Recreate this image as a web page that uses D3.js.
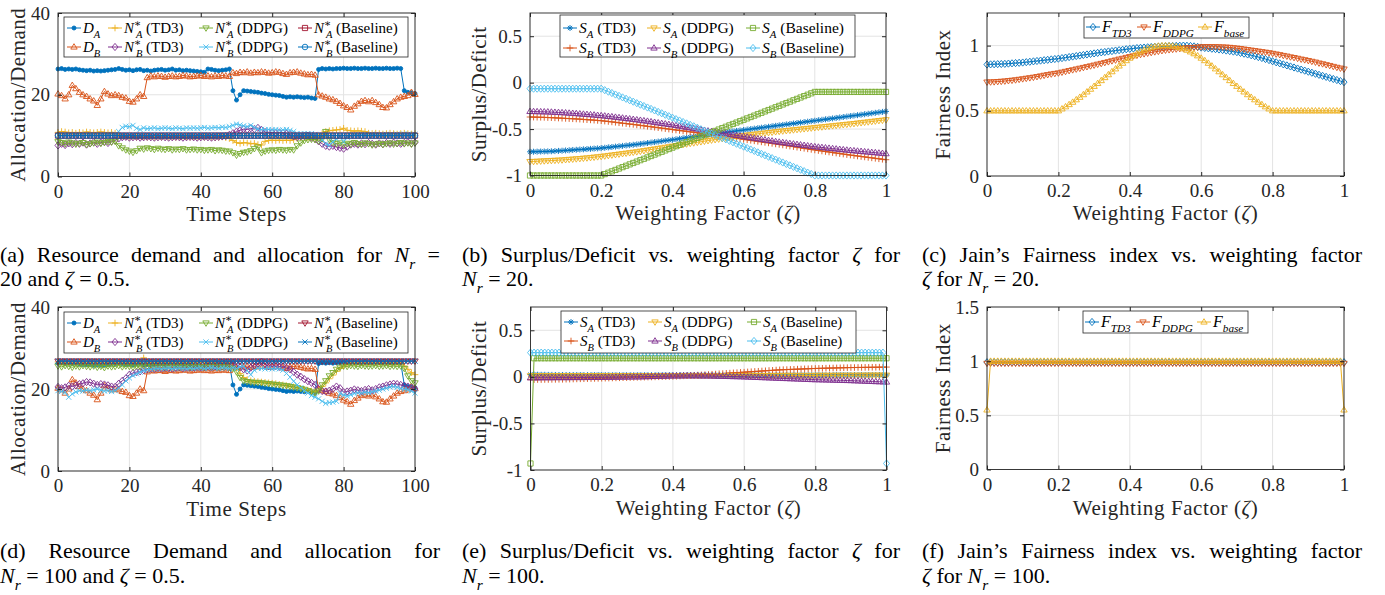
<!DOCTYPE html>
<html>
<head>
<meta charset="utf-8">
<script src="https://cdn.jsdelivr.net/npm/d3@7"></script>
<style>
  body { margin: 0; background: #fff; }
  svg { display: block; }
</style>
</head>
<body>
<div id="box"></div>
<script>
// ---------- data ----------
const timeSteps = d3.range(0, 101);          // 0..100
const zeta = d3.range(0, 101).map(i => i / 100); // 0..1 step 0.01

// (a) / (d) demands (same in both)
const demandA = [
  26.3, 26.4, 26.2, 26.3, 26.2, 26.3, 26.1, 26.0, 25.9, 26.0,
  25.8, 25.9, 25.8, 25.9, 26.0, 26.1, 26.2, 26.4, 26.2, 26.0,
  26.1, 25.9, 26.1, 26.2, 25.9, 26.0, 25.8, 26.0, 26.1, 26.2,
  26.0, 26.1, 26.3, 26.0, 26.1, 25.9, 26.0, 25.9, 25.8, 25.7,
  25.6, 25.5, 26.3, 26.2, 26.0, 25.9, 26.0, 26.1, 26.3, 21.0,
  18.7, 20.0, 21.0, 20.9, 20.8, 20.7, 20.6, 20.4, 20.3, 20.1,
  20.0, 19.9, 19.8, 19.6, 19.4, 19.5, 19.4, 19.5, 19.4, 19.3,
  19.4, 19.2, 19.1, 26.2, 26.4, 26.3, 26.4, 26.3, 26.4, 26.4,
  26.5, 26.4, 26.4, 26.5, 26.4, 26.4, 26.5, 26.4, 26.4, 26.5,
  26.4, 26.4, 26.5, 26.4, 26.4, 26.5, 26.4, 21.0, 20.6, 20.5,
  20.3];
const demandB = [
  20.2, 19.8, 19.0, 20.0, 22.3, 21.5, 20.6, 20.0, 19.6, 19.0,
  18.5, 17.4, 19.0, 20.8, 20.2, 19.8, 20.0, 19.8, 19.4, 19.2,
  18.4, 18.2, 19.0, 20.0, 19.6, 24.2, 24.6, 24.4, 24.6, 24.5,
  24.3, 24.5, 24.6, 24.4, 24.5, 24.7, 24.6, 24.4, 24.5, 24.6,
  24.7, 24.5, 24.6, 24.4, 24.6, 24.5, 24.7, 24.6, 24.5, 25.4,
  25.2, 25.5, 25.4, 25.6, 25.3, 25.5, 25.4, 25.6, 25.5, 25.3,
  25.4, 25.6, 25.5, 25.2, 25.0, 25.4, 25.5, 25.6, 25.3, 25.1,
  24.9, 25.0, 24.8, 20.0, 19.7, 19.4, 19.0, 18.8, 18.4, 17.9,
  17.3, 16.9, 16.3, 17.2, 17.8, 18.4, 18.6, 18.3, 18.6, 18.1,
  17.6, 16.9, 16.8, 17.6, 18.3, 19.0, 19.4, 19.6, 19.8, 20.6,
  20.1];

// (a) allocations, N_r = 20
const aNaTD3 = [
  10.8, 11.0, 10.9, 10.7, 10.8, 10.6, 10.8, 10.7, 10.9, 10.8,
  10.7, 10.8, 10.9, 10.8, 10.7, 10.8, 10.6, 10.2, 9.8, 9.7,
  9.6, 9.7, 9.6, 9.8, 9.7, 9.6, 9.7, 9.6, 9.7, 9.6,
  9.7, 9.6, 9.7, 9.6, 9.7, 9.8, 9.7, 9.6, 9.7, 9.6,
  9.7, 9.6, 9.7, 9.6, 9.5, 9.6, 9.7, 9.5, 9.3, 8.8,
  8.3, 8.1, 8.3, 8.2, 8.0, 8.1, 7.8, 7.7, 8.6, 8.8,
  8.9, 8.8, 8.9, 8.8, 8.9, 8.8, 9.0, 9.3, 9.5, 9.6,
  9.5, 9.6, 9.5, 9.8, 10.5, 11.0, 11.2, 11.3, 11.4, 11.5,
  11.8, 11.3, 11.2, 11.1, 11.2, 11.1, 11.0, 10.6, 10.5, 10.6,
  10.5, 10.4, 10.5, 10.6, 10.5, 10.4, 10.5, 10.6, 10.5, 10.4,
  10.5];
const aNbTD3 = [
  7.6, 8.0, 7.7, 8.1, 7.9, 8.2, 8.0, 8.3, 7.8, 8.1,
  8.4, 8.0, 8.3, 8.5, 8.2, 8.6, 8.8, 9.3, 9.6, 9.7,
  9.5, 9.6, 9.7, 9.5, 9.6, 9.7, 9.6, 9.5, 9.6, 9.7,
  9.6, 9.5, 9.6, 9.7, 9.6, 9.5, 9.6, 9.7, 9.6, 9.5,
  9.6, 9.7, 9.6, 9.5, 9.6, 9.7, 9.8, 9.9, 10.2, 10.6,
  11.0, 11.3, 11.6, 11.5, 11.8, 11.6, 11.9, 11.4, 10.9, 10.7,
  10.8, 10.6, 10.8, 10.7, 10.5, 10.2, 9.8, 9.6, 9.8, 9.9,
  10.0, 9.5, 9.2, 8.6, 8.0, 7.5, 7.3, 7.5, 7.2, 7.0,
  6.8, 7.3, 7.8, 8.0, 7.8, 8.1, 7.9, 8.2, 8.0, 7.8,
  8.1, 7.9, 8.2, 8.0, 8.3, 8.1, 8.0, 8.2, 8.4, 8.1,
  8.3];
const aNaDDPG = [
  8.5, 8.3, 8.0, 8.4, 8.2, 7.9, 8.1, 8.3, 7.8, 8.0,
  8.2, 8.4, 8.1, 8.3, 8.5, 8.4, 8.6, 7.5, 7.0, 6.5,
  6.2, 5.9, 6.3, 6.9, 6.7, 7.0, 6.8, 6.6, 6.9, 6.7,
  6.6, 6.8, 6.5, 6.7, 6.6, 6.8, 6.5, 6.6, 6.7, 6.5,
  6.6, 6.4, 6.5, 6.6, 6.3, 6.5, 6.4, 6.2, 6.2, 5.8,
  5.2, 5.6, 5.9, 6.0, 6.3, 6.8, 7.2, 5.8, 6.2, 6.4,
  6.5, 6.4, 6.6, 6.5, 6.4, 6.6, 6.5, 7.5, 8.2, 8.8,
  9.0, 9.1, 9.0, 8.7, 9.2, 11.0, 9.0, 8.3, 8.0, 8.2,
  7.8, 8.1, 7.9, 8.3, 8.0, 7.8, 8.2, 8.0, 7.7, 7.9,
  8.1, 7.8, 8.0, 8.2, 7.9, 8.1, 8.3, 8.0, 8.2, 7.9,
  8.2];
const aNbDDPG = [
  10.1, 10.0, 10.2, 10.1, 10.0, 10.2, 10.1, 10.0, 10.1, 10.2,
  10.1, 10.0, 10.2, 10.1, 10.2, 10.1, 10.3, 11.0, 12.0, 12.3,
  12.2, 12.5, 11.8, 11.5, 11.9, 11.7, 11.8, 11.9, 11.7, 11.8,
  11.9, 11.8, 11.7, 11.9, 11.8, 11.7, 11.9, 11.8, 11.9, 11.8,
  11.9, 12.0, 11.8, 11.9, 12.0, 11.9, 12.1, 12.0, 12.2, 12.5,
  12.8, 12.6, 12.4, 12.2, 12.5, 12.0, 11.6, 11.5, 11.4, 11.5,
  11.4, 11.5, 11.3, 11.4, 11.5, 11.3, 11.0, 10.5, 10.4, 10.5,
  10.4, 10.5, 10.3, 10.0, 9.0, 8.0, 7.6, 8.5, 9.2, 9.8,
  8.5, 9.6, 10.0, 10.2, 10.1, 10.3, 10.2, 10.1, 10.3, 10.2,
  10.1, 10.2, 10.3, 10.2, 10.1, 10.3, 10.2, 10.4, 10.3, 10.2,
  10.3];
const aNaBase = [
  10, 10, 10, 10, 10, 10, 10, 10, 10, 10, 10, 10, 10, 10, 10, 10, 10, 10, 10, 10,
  10, 10, 10, 10, 10, 10, 10, 10, 10, 10, 10, 10, 10, 10, 10, 10, 10, 10, 10, 10,
  10, 10, 10, 10, 10, 10, 10, 10, 10, 10, 10, 10, 10, 10, 10, 10, 10, 10, 10, 10,
  10, 10, 10, 10, 10, 10, 10, 10, 10, 10, 10, 10, 10, 10, 10, 10, 10, 10, 10, 10,
  10, 10, 10, 10, 10, 10, 10, 10, 10, 10, 10, 10, 10, 10, 10, 10, 10, 10, 10, 10,
  10];
const aNbBase = [
  10, 10, 10, 10, 10, 10, 10, 10, 10, 10, 10, 10, 10, 10, 10, 10, 10, 10, 10, 10,
  10, 10, 10, 10, 10, 10, 10, 10, 10, 10, 10, 10, 10, 10, 10, 10, 10, 10, 10, 10,
  10, 10, 10, 10, 10, 10, 10, 10, 10, 10, 10, 10, 10, 10, 10, 10, 10, 10, 10, 10,
  10, 10, 10, 10, 10, 10, 10, 10, 10, 10, 10, 10, 10, 10, 10, 10, 10, 10, 10, 10,
  10, 10, 10, 10, 10, 10, 10, 10, 10, 10, 10, 10, 10, 10, 10, 10, 10, 10, 10, 10,
  10];

// (d) allocations, N_r = 100
const dNaTD3 = [
  26.6, 26.5, 26.6, 26.5, 26.6, 26.5, 26.6, 26.5, 26.6, 26.5,
  26.6, 26.5, 26.6, 26.5, 26.6, 26.5, 26.6, 26.5, 26.6, 26.5,
  26.6, 26.5, 26.6, 26.5, 27.6, 26.6, 26.5, 26.6, 26.5, 26.6,
  26.5, 26.6, 26.5, 26.6, 26.5, 26.6, 26.5, 26.6, 26.5, 26.6,
  26.5, 26.6, 26.5, 26.6, 26.5, 26.6, 26.5, 26.6, 26.5, 26.3,
  25.2, 23.8, 22.8, 22.3, 22.0, 21.9, 21.8, 21.7, 21.6, 21.5,
  21.4, 21.3, 21.1, 21.0, 20.8, 20.7, 20.5, 20.3, 20.1, 19.9,
  19.7, 19.5, 19.3, 19.6, 20.6, 21.5, 22.5, 23.4, 24.3, 25.0,
  25.6, 26.0, 26.3, 26.4, 26.5, 26.4, 26.5, 26.4, 26.5, 26.4,
  26.5, 26.4, 26.5, 26.4, 26.5, 26.4, 26.5, 25.6, 24.8, 24.0,
  23.5];
const dNbTD3 = [
  20.5, 20.2, 20.4, 20.8, 20.6, 20.9, 21.2, 21.4, 21.7, 21.6,
  21.3, 21.0, 21.2, 21.1, 20.9, 20.6, 20.5, 21.3, 22.0, 22.6,
  23.5, 23.9, 24.1, 24.3, 24.6, 24.8, 25.0, 24.9, 25.1, 25.0,
  25.2, 25.1, 25.0, 25.2, 25.3, 25.1, 25.2, 25.3, 25.2, 25.4,
  25.3, 25.4, 25.5, 25.4, 25.5, 25.6, 25.5, 25.6, 25.5, 25.7,
  26.0, 25.3, 24.8, 24.5, 25.2, 25.9, 26.2, 26.6, 26.0, 25.6,
  25.5, 25.6, 25.4, 25.5, 25.2, 24.8, 24.2, 23.5, 23.0, 22.4,
  21.9, 21.5, 21.0, 20.0, 19.5, 19.4, 19.6, 20.0, 20.6, 20.2,
  19.2, 19.4, 19.6, 19.9, 19.7, 19.5, 19.8, 20.0, 19.7, 20.0,
  20.4, 20.6, 20.9, 21.1, 21.3, 21.2, 21.0, 20.8, 20.6, 20.4,
  20.0];
const dNaDDPG = [
  25.6, 25.4, 25.7, 25.5, 25.3, 25.6, 25.4, 25.7, 25.5, 25.4,
  25.6, 25.3, 25.5, 25.2, 25.6, 25.4, 25.5, 25.7, 25.4, 25.6,
  25.5, 25.3, 25.6, 25.4, 25.7, 25.5, 25.6, 25.4, 25.5, 25.6,
  25.4, 25.6, 25.5, 25.7, 25.4, 25.5, 25.6, 25.4, 25.5, 25.6,
  25.5, 25.4, 25.6, 25.5, 25.7, 25.4, 25.5, 25.6, 25.3, 25.0,
  24.2, 22.8, 22.0, 21.8, 21.7, 21.6, 21.6, 21.5, 21.4, 21.3,
  21.2, 21.1, 21.0, 20.9, 20.8, 20.6, 20.5, 20.3, 20.1, 19.9,
  19.6, 19.3, 19.0, 19.5, 21.0, 22.0, 23.2, 24.0, 24.8, 25.3,
  25.6, 25.5, 25.7, 25.6, 25.5, 25.7, 25.6, 25.5, 25.6, 25.7,
  25.5, 25.6, 25.7, 25.5, 25.6, 25.5, 25.6, 25.0, 23.2, 22.0,
  21.5];
const dNbDDPG = [
  19.6, 19.4, 19.2, 18.0, 18.8, 19.3, 19.6, 19.5, 19.7, 19.6,
  19.8, 20.0, 19.7, 19.5, 19.6, 19.4, 19.6, 20.2, 21.0, 22.0,
  22.7, 23.3, 23.7, 24.1, 24.5, 24.7, 24.8, 24.9, 25.0, 24.9,
  25.0, 25.1, 24.9, 25.0, 25.1, 25.0, 24.9, 25.1, 25.0, 25.1,
  25.2, 25.0, 25.1, 25.2, 25.1, 25.0, 25.2, 25.1, 25.0, 25.2,
  25.0, 25.4, 25.6, 24.5, 23.5, 24.6, 25.1, 25.0, 24.9, 25.0,
  24.9, 25.0, 24.9, 24.6, 23.8, 22.9, 21.9, 21.0, 20.3, 19.6,
  19.0, 18.4, 18.0, 17.6, 17.0, 16.5, 16.7, 16.8, 17.0, 18.9,
  18.5, 18.3, 18.6, 18.9, 19.1, 19.0, 19.2, 19.1, 19.3, 19.5,
  19.7, 20.0, 20.2, 20.5, 20.6, 20.4, 20.1, 19.9, 19.8, 19.5,
  19.0];
const dNaBase = [
  26.8, 26.8, 26.8, 26.8, 26.8, 26.8, 26.8, 26.8, 26.8, 26.8, 26.8, 26.8, 26.8, 26.8, 26.8, 26.8, 26.8, 26.8, 26.8, 26.8,
  26.8, 26.8, 26.8, 26.8, 26.8, 26.8, 26.8, 26.8, 26.8, 26.8, 26.8, 26.8, 26.8, 26.8, 26.8, 26.8, 26.8, 26.8, 26.8, 26.8,
  26.8, 26.8, 26.8, 26.8, 26.8, 26.8, 26.8, 26.8, 26.8, 26.8, 26.8, 26.8, 26.8, 26.8, 26.8, 26.8, 26.8, 26.8, 26.8, 26.8,
  26.8, 26.8, 26.8, 26.8, 26.8, 26.8, 26.8, 26.8, 26.8, 26.8, 26.8, 26.8, 26.8, 26.8, 26.8, 26.8, 26.8, 26.8, 26.8, 26.8,
  26.8, 26.8, 26.8, 26.8, 26.8, 26.8, 26.8, 26.8, 26.8, 26.8, 26.8, 26.8, 26.8, 26.8, 26.8, 26.8, 26.8, 26.8, 26.8, 26.8,
  26.8];
const dNbBase = [
  26.8, 26.8, 26.8, 26.8, 26.8, 26.8, 26.8, 26.8, 26.8, 26.8, 26.8, 26.8, 26.8, 26.8, 26.8, 26.8, 26.8, 26.8, 26.8, 26.8,
  26.8, 26.8, 26.8, 26.8, 26.8, 26.8, 26.8, 26.8, 26.8, 26.8, 26.8, 26.8, 26.8, 26.8, 26.8, 26.8, 26.8, 26.8, 26.8, 26.8,
  26.8, 26.8, 26.8, 26.8, 26.8, 26.8, 26.8, 26.8, 26.8, 26.8, 26.8, 26.8, 26.8, 26.8, 26.8, 26.8, 26.8, 26.8, 26.8, 26.8,
  26.8, 26.8, 26.8, 26.8, 26.8, 26.8, 26.8, 26.8, 26.8, 26.8, 26.8, 26.8, 26.8, 26.8, 26.8, 26.8, 26.8, 26.8, 26.8, 26.8,
  26.8, 26.8, 26.8, 26.8, 26.8, 26.8, 26.8, 26.8, 26.8, 26.8, 26.8, 26.8, 26.8, 26.8, 26.8, 26.8, 26.8, 26.8, 26.8, 26.8,
  26.8];

// (b) surplus/deficit, N_r = 20
const bSaTD3 = [
  -0.745, -0.744, -0.743, -0.742, -0.741, -0.740, -0.739, -0.737, -0.735, -0.733, -0.730,
  -0.728, -0.725, -0.723, -0.720, -0.718, -0.715, -0.713, -0.710, -0.708, -0.705,
  -0.701, -0.697, -0.693, -0.689, -0.685, -0.681, -0.677, -0.673, -0.669, -0.665,
  -0.660, -0.655, -0.650, -0.645, -0.640, -0.635, -0.630, -0.625, -0.620, -0.615,
  -0.610, -0.604, -0.599, -0.593, -0.588, -0.582, -0.577, -0.571, -0.566, -0.560,
  -0.555, -0.550, -0.545, -0.540, -0.535, -0.530, -0.525, -0.520, -0.515, -0.510,
  -0.505, -0.500, -0.495, -0.490, -0.485, -0.480, -0.475, -0.470, -0.465, -0.460,
  -0.455, -0.450, -0.445, -0.440, -0.435, -0.430, -0.425, -0.420, -0.415, -0.410,
  -0.405, -0.400, -0.395, -0.390, -0.385, -0.380, -0.375, -0.370, -0.365, -0.360,
  -0.355, -0.350, -0.345, -0.340, -0.335, -0.330, -0.325, -0.320, -0.315, -0.310];
const bSaDDPG = [
  -0.850, -0.849, -0.847, -0.845, -0.843, -0.841, -0.839, -0.837, -0.835, -0.833, -0.830,
  -0.827, -0.824, -0.821, -0.818, -0.814, -0.811, -0.807, -0.803, -0.799, -0.795,
  -0.790, -0.785, -0.780, -0.775, -0.770, -0.765, -0.760, -0.755, -0.750, -0.745,
  -0.739, -0.733, -0.727, -0.721, -0.715, -0.709, -0.703, -0.697, -0.691, -0.685,
  -0.679, -0.673, -0.667, -0.661, -0.655, -0.649, -0.643, -0.637, -0.631, -0.625,
  -0.619, -0.614, -0.608, -0.603, -0.597, -0.592, -0.586, -0.581, -0.575, -0.570,
  -0.565, -0.561, -0.556, -0.552, -0.547, -0.543, -0.538, -0.534, -0.529, -0.525,
  -0.521, -0.517, -0.513, -0.509, -0.505, -0.501, -0.497, -0.493, -0.489, -0.485,
  -0.481, -0.477, -0.473, -0.469, -0.465, -0.461, -0.457, -0.453, -0.449, -0.445,
  -0.441, -0.436, -0.432, -0.427, -0.423, -0.418, -0.414, -0.409, -0.405, -0.400];
const bSaBase = [
  -1.0, -1.0, -1.0, -1.0, -1.0, -1.0, -1.0, -1.0, -1.0, -1.0, -1.0,
  -1.0, -1.0, -1.0, -1.0, -1.0, -1.0, -1.0, -1.0, -1.0, -1.0,
  -0.985, -0.970, -0.955, -0.940, -0.925, -0.910, -0.895, -0.880, -0.865, -0.850,
  -0.835, -0.820, -0.805, -0.790, -0.775, -0.760, -0.745, -0.730, -0.715, -0.700,
  -0.685, -0.670, -0.655, -0.640, -0.625, -0.610, -0.595, -0.580, -0.565, -0.550,
  -0.535, -0.520, -0.505, -0.490, -0.475, -0.460, -0.445, -0.430, -0.415, -0.400,
  -0.385, -0.370, -0.355, -0.340, -0.325, -0.310, -0.295, -0.280, -0.265, -0.250,
  -0.235, -0.220, -0.205, -0.190, -0.175, -0.160, -0.145, -0.130, -0.115, -0.100,
  -0.100, -0.100, -0.100, -0.100, -0.100, -0.100, -0.100, -0.100, -0.100, -0.100,
  -0.100, -0.100, -0.100, -0.100, -0.100, -0.100, -0.100, -0.100, -0.100, -0.100];
const bSbTD3 = [
  -0.370, -0.371, -0.372, -0.373, -0.374, -0.376, -0.377, -0.379, -0.381, -0.383, -0.385,
  -0.387, -0.389, -0.391, -0.393, -0.396, -0.399, -0.401, -0.404, -0.407, -0.410,
  -0.414, -0.418, -0.423, -0.427, -0.432, -0.437, -0.441, -0.446, -0.450, -0.455,
  -0.460, -0.465, -0.470, -0.475, -0.480, -0.485, -0.490, -0.495, -0.500, -0.505,
  -0.510, -0.515, -0.520, -0.525, -0.530, -0.535, -0.540, -0.545, -0.550, -0.555,
  -0.560, -0.566, -0.571, -0.577, -0.582, -0.588, -0.593, -0.599, -0.604, -0.610,
  -0.616, -0.621, -0.627, -0.632, -0.638, -0.643, -0.649, -0.654, -0.660, -0.665,
  -0.671, -0.677, -0.683, -0.689, -0.695, -0.701, -0.707, -0.713, -0.719, -0.725,
  -0.731, -0.736, -0.742, -0.747, -0.753, -0.758, -0.764, -0.769, -0.775, -0.780,
  -0.785, -0.790, -0.795, -0.800, -0.805, -0.810, -0.815, -0.820, -0.825, -0.830];
const bSbDDPG = [
  -0.310, -0.311, -0.312, -0.313, -0.314, -0.315, -0.317, -0.319, -0.321, -0.323, -0.325,
  -0.328, -0.330, -0.333, -0.336, -0.339, -0.342, -0.345, -0.348, -0.352, -0.355,
  -0.359, -0.363, -0.367, -0.372, -0.376, -0.381, -0.386, -0.390, -0.395, -0.400,
  -0.405, -0.410, -0.415, -0.421, -0.427, -0.433, -0.439, -0.444, -0.450, -0.455,
  -0.461, -0.468, -0.474, -0.481, -0.487, -0.494, -0.500, -0.507, -0.513, -0.520,
  -0.526, -0.532, -0.538, -0.544, -0.550, -0.556, -0.562, -0.568, -0.574, -0.580,
  -0.586, -0.592, -0.598, -0.604, -0.610, -0.616, -0.622, -0.628, -0.634, -0.640,
  -0.645, -0.650, -0.655, -0.660, -0.665, -0.670, -0.675, -0.680, -0.685, -0.690,
  -0.694, -0.698, -0.702, -0.706, -0.710, -0.714, -0.718, -0.722, -0.726, -0.730,
  -0.733, -0.737, -0.740, -0.744, -0.747, -0.751, -0.754, -0.758, -0.761, -0.765];
const bSbBase = [
  -0.065, -0.065, -0.065, -0.065, -0.065, -0.065, -0.065, -0.065, -0.065, -0.065, -0.065,
  -0.065, -0.065, -0.065, -0.065, -0.065, -0.065, -0.065, -0.065, -0.065, -0.065,
  -0.081, -0.097, -0.112, -0.128, -0.143, -0.159, -0.174, -0.190, -0.205, -0.221,
  -0.237, -0.252, -0.268, -0.283, -0.299, -0.315, -0.330, -0.346, -0.361, -0.377,
  -0.393, -0.408, -0.424, -0.439, -0.455, -0.470, -0.486, -0.502, -0.517, -0.533,
  -0.548, -0.564, -0.580, -0.595, -0.611, -0.626, -0.642, -0.658, -0.673, -0.689,
  -0.704, -0.720, -0.735, -0.751, -0.767, -0.782, -0.798, -0.813, -0.829, -0.844,
  -0.860, -0.876, -0.891, -0.907, -0.922, -0.938, -0.953, -0.969, -0.984, -1.0,
  -1.0, -1.0, -1.0, -1.0, -1.0, -1.0, -1.0, -1.0, -1.0, -1.0,
  -1.0, -1.0, -1.0, -1.0, -1.0, -1.0, -1.0, -1.0, -1.0, -1.0];

// (c) Jain's fairness, N_r = 20
const cTD3 = [
  0.855, 0.856, 0.857, 0.858, 0.859, 0.860, 0.862, 0.864, 0.866, 0.868, 0.870,
  0.873, 0.876, 0.879, 0.882, 0.885, 0.888, 0.891, 0.894, 0.897, 0.900,
  0.904, 0.908, 0.912, 0.916, 0.920, 0.924, 0.928, 0.932, 0.936, 0.940,
  0.944, 0.948, 0.951, 0.955, 0.958, 0.962, 0.965, 0.968, 0.972, 0.975,
  0.978, 0.981, 0.983, 0.985, 0.987, 0.989, 0.991, 0.992, 0.994, 0.995,
  0.996, 0.997, 0.998, 0.999, 1.000, 0.999, 0.997, 0.994, 0.990, 0.985,
  0.982, 0.979, 0.976, 0.973, 0.970, 0.966, 0.962, 0.958, 0.954, 0.950,
  0.944, 0.938, 0.932, 0.926, 0.919, 0.912, 0.905, 0.897, 0.889, 0.880,
  0.872, 0.864, 0.856, 0.848, 0.840, 0.832, 0.824, 0.816, 0.808, 0.800,
  0.792, 0.784, 0.776, 0.768, 0.760, 0.752, 0.744, 0.736, 0.728, 0.720];
const cDDPG = [
  0.720, 0.721, 0.722, 0.724, 0.726, 0.728, 0.731, 0.734, 0.737, 0.741, 0.745,
  0.749, 0.753, 0.757, 0.762, 0.767, 0.772, 0.777, 0.782, 0.786, 0.790,
  0.796, 0.802, 0.808, 0.814, 0.820, 0.826, 0.832, 0.838, 0.844, 0.850,
  0.857, 0.863, 0.870, 0.876, 0.883, 0.889, 0.896, 0.902, 0.909, 0.915,
  0.921, 0.926, 0.932, 0.937, 0.942, 0.947, 0.952, 0.956, 0.961, 0.965,
  0.968, 0.971, 0.974, 0.977, 0.980, 0.982, 0.984, 0.986, 0.988, 0.990,
  0.991, 0.991, 0.991, 0.991, 0.990, 0.989, 0.988, 0.986, 0.983, 0.980,
  0.977, 0.973, 0.969, 0.965, 0.961, 0.957, 0.953, 0.949, 0.945, 0.940,
  0.935, 0.930, 0.924, 0.919, 0.913, 0.908, 0.902, 0.896, 0.891, 0.885,
  0.879, 0.873, 0.866, 0.860, 0.853, 0.847, 0.840, 0.833, 0.827, 0.820];
const cBase = [
  0.5, 0.5, 0.5, 0.5, 0.5, 0.5, 0.5, 0.5, 0.5, 0.5, 0.5,
  0.5, 0.5, 0.5, 0.5, 0.5, 0.5, 0.5, 0.5, 0.5, 0.5,
  0.515, 0.531, 0.548, 0.566, 0.585, 0.604, 0.624, 0.645, 0.666, 0.688,
  0.710, 0.732, 0.755, 0.777, 0.800, 0.822, 0.844, 0.865, 0.885, 0.904,
  0.922, 0.938, 0.952, 0.965, 0.976, 0.985, 0.992, 0.997, 0.999, 1.000,
  0.999, 0.997, 0.992, 0.985, 0.976, 0.965, 0.952, 0.938, 0.922, 0.904,
  0.885, 0.865, 0.844, 0.822, 0.800, 0.777, 0.755, 0.732, 0.710, 0.688,
  0.666, 0.645, 0.624, 0.604, 0.585, 0.566, 0.548, 0.531, 0.515, 0.5,
  0.5, 0.5, 0.5, 0.5, 0.5, 0.5, 0.5, 0.5, 0.5, 0.5,
  0.5, 0.5, 0.5, 0.5, 0.5, 0.5, 0.5, 0.5, 0.5, 0.5];

// (e) surplus/deficit, N_r = 100
const eSaTD3 = [
  0.025, 0.024, 0.023, 0.022, 0.022, 0.021, 0.021, 0.020, 0.020, 0.020, 0.020,
  0.020, 0.020, 0.020, 0.019, 0.019, 0.019, 0.019, 0.019, 0.019, 0.019,
  0.019, 0.018, 0.018, 0.018, 0.018, 0.018, 0.018, 0.018, 0.018, 0.018,
  0.018, 0.018, 0.018, 0.018, 0.018, 0.018, 0.018, 0.018, 0.018, 0.018,
  0.018, 0.018, 0.018, 0.018, 0.018, 0.018, 0.018, 0.018, 0.018, 0.018,
  0.018, 0.018, 0.018, 0.018, 0.018, 0.018, 0.018, 0.018, 0.018, 0.018,
  0.018, 0.018, 0.018, 0.018, 0.018, 0.018, 0.018, 0.018, 0.018, 0.018,
  0.018, 0.018, 0.018, 0.018, 0.018, 0.018, 0.018, 0.018, 0.018, 0.018,
  0.018, 0.018, 0.018, 0.018, 0.019, 0.019, 0.019, 0.019, 0.019, 0.019,
  0.019, 0.019, 0.019, 0.019, 0.019, 0.020, 0.020, 0.020, 0.020, 0.020];
const eSaDDPG = [
  0.012, 0.012, 0.012, 0.012, 0.012, 0.012, 0.012, 0.012, 0.012, 0.012, 0.012,
  0.012, 0.012, 0.012, 0.012, 0.012, 0.012, 0.012, 0.012, 0.012, 0.012,
  0.012, 0.012, 0.012, 0.012, 0.012, 0.013, 0.013, 0.013, 0.013, 0.013,
  0.013, 0.013, 0.013, 0.013, 0.013, 0.013, 0.013, 0.013, 0.013, 0.013,
  0.013, 0.013, 0.013, 0.013, 0.013, 0.013, 0.013, 0.013, 0.013, 0.013,
  0.013, 0.013, 0.013, 0.013, 0.013, 0.014, 0.014, 0.014, 0.014, 0.014,
  0.014, 0.014, 0.014, 0.014, 0.014, 0.014, 0.014, 0.014, 0.014, 0.014,
  0.015, 0.015, 0.015, 0.015, 0.015, 0.015, 0.015, 0.015, 0.015, 0.015,
  0.016, 0.016, 0.016, 0.016, 0.016, 0.016, 0.016, 0.016, 0.016, 0.016,
  0.017, 0.017, 0.017, 0.017, 0.017, 0.018, 0.018, 0.018, 0.018, 0.018];
const eSaBase = [
  -0.93, 0.2, 0.2, 0.2, 0.2, 0.2, 0.2, 0.2, 0.2, 0.2, 0.2,
  0.2, 0.2, 0.2, 0.2, 0.2, 0.2, 0.2, 0.2, 0.2, 0.2,
  0.2, 0.2, 0.2, 0.2, 0.2, 0.2, 0.2, 0.2, 0.2, 0.2,
  0.2, 0.2, 0.2, 0.2, 0.2, 0.2, 0.2, 0.2, 0.2, 0.2,
  0.2, 0.2, 0.2, 0.2, 0.2, 0.2, 0.2, 0.2, 0.2, 0.2,
  0.2, 0.2, 0.2, 0.2, 0.2, 0.2, 0.2, 0.2, 0.2, 0.2,
  0.2, 0.2, 0.2, 0.2, 0.2, 0.2, 0.2, 0.2, 0.2, 0.2,
  0.2, 0.2, 0.2, 0.2, 0.2, 0.2, 0.2, 0.2, 0.2, 0.2,
  0.2, 0.2, 0.2, 0.2, 0.2, 0.2, 0.2, 0.2, 0.2, 0.2,
  0.2, 0.2, 0.2, 0.2, 0.2, 0.2, 0.2, 0.2, 0.2, 0.2];
const eSbTD3 = [
  -0.030, -0.030, -0.029, -0.029, -0.028, -0.028, -0.027, -0.027, -0.026, -0.026, -0.025,
  -0.024, -0.023, -0.022, -0.021, -0.020, -0.019, -0.018, -0.017, -0.016, -0.015,
  -0.014, -0.013, -0.012, -0.011, -0.010, -0.009, -0.008, -0.007, -0.006, -0.005,
  -0.004, -0.003, -0.002, -0.001, 0.000, 0.001, 0.002, 0.003, 0.004, 0.005,
  0.007, 0.009, 0.011, 0.013, 0.015, 0.017, 0.019, 0.021, 0.023, 0.025,
  0.028, 0.030, 0.033, 0.035, 0.038, 0.040, 0.043, 0.045, 0.048, 0.050,
  0.053, 0.055, 0.058, 0.060, 0.063, 0.065, 0.068, 0.070, 0.073, 0.075,
  0.077, 0.078, 0.080, 0.081, 0.083, 0.084, 0.086, 0.087, 0.089, 0.090,
  0.091, 0.092, 0.093, 0.094, 0.095, 0.096, 0.097, 0.098, 0.099, 0.100,
  0.100, 0.101, 0.101, 0.102, 0.102, 0.103, 0.103, 0.104, 0.104, 0.105];
const eSbDDPG = [
  -0.010, -0.010, -0.010, -0.009, -0.009, -0.009, -0.009, -0.008, -0.008, -0.008, -0.008,
  -0.008, -0.007, -0.007, -0.007, -0.007, -0.006, -0.006, -0.006, -0.005, -0.005,
  -0.004, -0.004, -0.003, -0.003, -0.002, -0.002, -0.001, -0.001, 0.000, 0.000,
  0.001, 0.002, 0.003, 0.004, 0.005, 0.006, 0.007, 0.008, 0.009, 0.010,
  0.010, 0.010, 0.011, 0.011, 0.011, 0.011, 0.011, 0.010, 0.010, 0.010,
  0.009, 0.008, 0.007, 0.006, 0.005, 0.004, 0.003, 0.002, 0.001, 0.000,
  -0.002, -0.003, -0.005, -0.006, -0.008, -0.009, -0.011, -0.012, -0.014, -0.015,
  -0.017, -0.018, -0.020, -0.021, -0.023, -0.024, -0.026, -0.027, -0.029, -0.030,
  -0.031, -0.032, -0.033, -0.034, -0.035, -0.036, -0.037, -0.038, -0.039, -0.040,
  -0.042, -0.043, -0.045, -0.046, -0.048, -0.049, -0.051, -0.052, -0.054, -0.055];
const eSbBase = [
  0.26, 0.26, 0.26, 0.26, 0.26, 0.26, 0.26, 0.26, 0.26, 0.26, 0.26,
  0.26, 0.26, 0.26, 0.26, 0.26, 0.26, 0.26, 0.26, 0.26, 0.26,
  0.26, 0.26, 0.26, 0.26, 0.26, 0.26, 0.26, 0.26, 0.26, 0.26,
  0.26, 0.26, 0.26, 0.26, 0.26, 0.26, 0.26, 0.26, 0.26, 0.26,
  0.26, 0.26, 0.26, 0.26, 0.26, 0.26, 0.26, 0.26, 0.26, 0.26,
  0.26, 0.26, 0.26, 0.26, 0.26, 0.26, 0.26, 0.26, 0.26, 0.26,
  0.26, 0.26, 0.26, 0.26, 0.26, 0.26, 0.26, 0.26, 0.26, 0.26,
  0.26, 0.26, 0.26, 0.26, 0.26, 0.26, 0.26, 0.26, 0.26, 0.26,
  0.26, 0.26, 0.26, 0.26, 0.26, 0.26, 0.26, 0.26, 0.26, 0.26,
  0.26, 0.26, 0.26, 0.26, 0.26, 0.26, 0.26, 0.26, 0.26, -0.93];

// (f) Jain's fairness, N_r = 100
const fTD3 = [
  0.99, 0.99, 0.99, 0.99, 0.99, 0.99, 0.99, 0.99, 0.99, 0.99, 0.99, 0.99, 0.99, 0.99, 0.99, 0.99, 0.99, 0.99, 0.99, 0.99,
  0.99, 0.99, 0.99, 0.99, 0.99, 0.99, 0.99, 0.99, 0.99, 0.99, 0.99, 0.99, 0.99, 0.99, 0.99, 0.99, 0.99, 0.99, 0.99, 0.99,
  0.99, 0.99, 0.99, 0.99, 0.99, 0.99, 0.99, 0.99, 0.99, 0.99, 0.99, 0.99, 0.99, 0.99, 0.99, 0.99, 0.99, 0.99, 0.99, 0.99,
  0.99, 0.99, 0.99, 0.99, 0.99, 0.99, 0.99, 0.99, 0.99, 0.99, 0.99, 0.99, 0.99, 0.99, 0.99, 0.99, 0.99, 0.99, 0.99, 0.99,
  0.99, 0.99, 0.99, 0.99, 0.99, 0.99, 0.99, 0.99, 0.99, 0.99, 0.99, 0.99, 0.99, 0.99, 0.99, 0.99, 0.99, 0.99, 0.99, 0.99,
  0.99];
const fDDPG = [
  0.98, 0.98, 0.98, 0.98, 0.98, 0.98, 0.98, 0.98, 0.98, 0.98, 0.98, 0.98, 0.98, 0.98, 0.98, 0.98, 0.98, 0.98, 0.98, 0.98,
  0.98, 0.98, 0.98, 0.98, 0.98, 0.98, 0.98, 0.98, 0.98, 0.98, 0.98, 0.98, 0.98, 0.98, 0.98, 0.98, 0.98, 0.98, 0.98, 0.98,
  0.98, 0.98, 0.98, 0.98, 0.98, 0.98, 0.98, 0.98, 0.98, 0.98, 0.98, 0.98, 0.98, 0.98, 0.98, 0.98, 0.98, 0.98, 0.98, 0.98,
  0.98, 0.98, 0.98, 0.98, 0.98, 0.98, 0.98, 0.98, 0.98, 0.98, 0.98, 0.98, 0.98, 0.98, 0.98, 0.98, 0.98, 0.98, 0.98, 0.98,
  0.98, 0.98, 0.98, 0.98, 0.98, 0.98, 0.98, 0.98, 0.98, 0.98, 0.98, 0.98, 0.98, 0.98, 0.98, 0.98, 0.98, 0.98, 0.98, 0.98,
  0.98];
const fBase = [
  0.55, 1.0, 1.0, 1.0, 1.0, 1.0, 1.0, 1.0, 1.0, 1.0, 1.0, 1.0, 1.0, 1.0, 1.0, 1.0, 1.0, 1.0, 1.0, 1.0,
  1.0, 1.0, 1.0, 1.0, 1.0, 1.0, 1.0, 1.0, 1.0, 1.0, 1.0, 1.0, 1.0, 1.0, 1.0, 1.0, 1.0, 1.0, 1.0, 1.0,
  1.0, 1.0, 1.0, 1.0, 1.0, 1.0, 1.0, 1.0, 1.0, 1.0, 1.0, 1.0, 1.0, 1.0, 1.0, 1.0, 1.0, 1.0, 1.0, 1.0,
  1.0, 1.0, 1.0, 1.0, 1.0, 1.0, 1.0, 1.0, 1.0, 1.0, 1.0, 1.0, 1.0, 1.0, 1.0, 1.0, 1.0, 1.0, 1.0, 1.0,
  1.0, 1.0, 1.0, 1.0, 1.0, 1.0, 1.0, 1.0, 1.0, 1.0, 1.0, 1.0, 1.0, 1.0, 1.0, 1.0, 1.0, 1.0, 1.0, 1.0,
  0.55];

// tick labels
const timeTicks = [0, 20, 40, 60, 80, 100];
const allocTicks = [0, 20, 40];
const zetaTicks = [0, 0.2, 0.4, 0.6, 0.8, 1];
const surplusTicks = [-1, -0.5, 0, 0.5];
const fairTicksC = [0, 0.5, 1];
const fairTicksF = [0, 0.5, 1, 1.5];

// ---------- style ----------
const col = {
  blue: '#0072BD', orange: '#D95319', yellow: '#EDB120', purple: '#7E2F8E',
  green: '#77AC30', cyan: '#4DBEEE', red: '#A2142F'
};
const FONT = "'Liberation Serif', 'DejaVu Serif', serif";
const ink = '#262626';

const W = 1385, H = 595;
const svg = d3.select('#box').append('svg')
  .attr('width', W).attr('height', H)
  .attr('viewBox', `0 0 ${W} ${H}`)
  .attr('font-family', FONT);
svg.append('rect').attr('width', W).attr('height', H).attr('fill', '#fff');

// marker shapes (MATLAB style)
function markerPath(m) {
  switch (m) {
    case '.': return 'M-2,0a2,2 0 1,0 4,0a2,2 0 1,0 -4,0Z';
    case 'o': return 'M-2.8,0a2.8,2.8 0 1,0 5.6,0a2.8,2.8 0 1,0 -5.6,0Z';
    case 's': return 'M-2.6,-2.6H2.6V2.6H-2.6Z';
    case 'd': return 'M0,-3.6L3,0L0,3.6L-3,0Z';
    case 'v': return 'M-3.2,-2.1H3.2L0,3.3Z';
    case '^': return 'M-3.2,2.1H3.2L0,-3.3Z';
    case '+': return 'M-3.3,0H3.3M0,-3.3V3.3';
    case 'x': return 'M-2.6,-2.6L2.6,2.6M-2.6,2.6L2.6,-2.6';
    case '*': return 'M-3,0H3M0,-3V3M-2.1,-2.1L2.1,2.1M-2.1,2.1L2.1,-2.1';
  }
}

// rich text: parts = [[text, style]], style: i italic, b sub, p sup, k backspace
function rich(t, parts, fs) {
  let cur = 0;
  parts.forEach(([s, st = '']) => {
    const small = st.includes('b') || st.includes('p');
    const target = st.includes('b') ? fs * 0.3 : st.includes('p') ? -fs * 0.4 : 0;
    const ts = t.append('tspan').text(s).attr('dy', target - cur);
    cur = target;
    if (small) ts.attr('font-size', fs * 0.7);
    if (st.includes('i')) ts.attr('font-style', 'italic');
    if (st.includes('k')) ts.attr('dx', -fs * 0.7 * 0.5);
  });
}

const lbl = {
  DA: [['D', 'i'], ['A', 'ib']],
  DB: [['D', 'i'], ['B', 'ib']],
  N: (s, m) => [['N', 'i'], ['∗', 'p'], [s, 'ibk'], [` (${m})`]],
  S: (s, m) => [['S', 'i'], [s, 'ib'], [` (${m})`]],
  F: s => [['F', 'i'], [s, 'ib']]
};

function drawPanel(p) {
  const g = svg.append('g');
  const x = d3.scaleLinear().domain(p.xDom).range([p.left, p.left + p.w]);
  const y = d3.scaleLinear().domain(p.yDom).range([p.top + p.h, p.top]);

  // grid
  g.append('g').selectAll('line').data(p.xTicks).join('line')
    .attr('x1', d => x(d)).attr('x2', d => x(d))
    .attr('y1', p.top).attr('y2', p.top + p.h)
    .attr('stroke', '#e3e3e3').attr('stroke-width', 1);
  g.append('g').selectAll('line').data(p.yTicks).join('line')
    .attr('y1', d => y(d)).attr('y2', d => y(d))
    .attr('x1', p.left).attr('x2', p.left + p.w)
    .attr('stroke', '#e3e3e3').attr('stroke-width', 1);

  // series
  const line = d3.line().x((d, i) => x(p.xs[i])).y(d => y(d));
  p.series.forEach(s => {
    const sg = g.append('g');
    sg.append('path').attr('d', line(s.vals))
      .attr('fill', 'none').attr('stroke', s.color).attr('stroke-width', 1);
    sg.selectAll('path.m').data(s.vals).join('path')
      .attr('class', 'm')
      .attr('d', markerPath(s.mk))
      .attr('transform', (d, i) => `translate(${x(p.xs[i])},${y(d)})`)
      .attr('fill', s.mk === '.' ? s.color : 'none')
      .attr('stroke', s.color).attr('stroke-width', 0.9);
  });

  // frame
  g.append('rect').attr('x', p.left).attr('y', p.top).attr('width', p.w).attr('height', p.h)
    .attr('fill', 'none').attr('stroke', ink).attr('stroke-width', 0.9);

  // axes with inward ticks
  const fmt = d => String(d);
  const ax = (gen, tr) => {
    const a = g.append('g').attr('transform', tr).call(gen)
      .attr('font-family', FONT).attr('font-size', 19);
    a.select('.domain').remove();
    a.selectAll('line').attr('stroke', ink);
    a.selectAll('text').attr('fill', ink);
    return a;
  };
  ax(d3.axisBottom(x).tickValues(p.xTicks).tickFormat(fmt).tickSize(-4).tickPadding(8),
    `translate(0,${p.top + p.h})`);
  ax(d3.axisTop(x).tickValues(p.xTicks).tickFormat('').tickSize(-4), `translate(0,${p.top})`);
  ax(d3.axisLeft(y).tickValues(p.yTicks).tickFormat(fmt).tickSize(-4).tickPadding(8),
    `translate(${p.left},0)`);
  ax(d3.axisRight(y).tickValues(p.yTicks).tickFormat('').tickSize(-4), `translate(${p.left + p.w},0)`);

  // axis labels
  g.append('text')
    .attr('x', p.left + p.w / 2).attr('y', p.xLabelY)
    .attr('text-anchor', 'middle').attr('font-size', 21).attr('letter-spacing', 0.6)
    .attr('fill', ink).call(t => rich(t, p.xLabel, 21));
  g.append('text')
    .attr('transform', `translate(${p.yLabelX},${p.top + p.h / 2}) rotate(-90)`)
    .attr('text-anchor', 'middle').attr('font-size', 21).attr('letter-spacing', 0.5)
    .attr('fill', ink).text(p.yLabel);

  // legend
  const L = p.legend;
  const lg = g.append('g');
  lg.append('rect').attr('x', L.box[0]).attr('y', L.box[1])
    .attr('width', L.box[2]).attr('height', L.box[3])
    .attr('fill', '#fff').attr('stroke', ink).attr('stroke-width', 0.8);
  p.series.forEach((s, i) => {
    const c = Math.floor(i / L.rows.length), r = i % L.rows.length;
    const sx = L.cols[c], sy = L.rows[r];
    lg.append('line').attr('x1', sx).attr('x2', sx + 14).attr('y1', sy).attr('y2', sy)
      .attr('stroke', s.color).attr('stroke-width', 1);
    lg.append('path').attr('d', markerPath(s.mk))
      .attr('transform', `translate(${sx + 7},${sy})`)
      .attr('fill', s.mk === '.' ? s.color : 'none')
      .attr('stroke', s.color).attr('stroke-width', 0.9);
    lg.append('text').attr('x', sx + 16).attr('y', sy + 5)
      .attr('font-size', L.fs).attr('fill', '#000')
      .call(t => rich(t, s.name, L.fs));
  });
}

const xlTime = [['Time Steps']];
const xlZeta = [['Weighting Factor ('], ['ζ', 'i'], [')']];

const panels = [
  { // (a)
    left: 58, top: 13, w: 357, h: 163.5, xDom: [0, 100], yDom: [0, 40],
    xTicks: timeTicks, yTicks: allocTicks, xs: timeSteps,
    xLabel: xlTime, xLabelY: 221, yLabel: 'Allocation/Demand', yLabelX: 25,
    legend: { box: [64, 17, 344, 40], cols: [67, 108, 199, 298], rows: [28, 47], fs: 15 },
    series: [
      { name: lbl.DA, vals: demandA, color: col.blue, mk: '.' },
      { name: lbl.DB, vals: demandB, color: col.orange, mk: '^' },
      { name: lbl.N('A', 'TD3'), vals: aNaTD3, color: col.yellow, mk: '+' },
      { name: lbl.N('B', 'TD3'), vals: aNbTD3, color: col.purple, mk: 'd' },
      { name: lbl.N('A', 'DDPG'), vals: aNaDDPG, color: col.green, mk: 'v' },
      { name: lbl.N('B', 'DDPG'), vals: aNbDDPG, color: col.cyan, mk: 'x' },
      { name: lbl.N('A', 'Baseline'), vals: aNaBase, color: col.red, mk: 's' },
      { name: lbl.N('B', 'Baseline'), vals: aNbBase, color: col.blue, mk: 'o' }
    ]
  },
  { // (b)
    left: 530, top: 13, w: 356, h: 162.5, xDom: [0, 1], yDom: [-1, 0.75],
    xTicks: zetaTicks, yTicks: surplusTicks, xs: zeta,
    xLabel: xlZeta, xLabelY: 220, yLabel: 'Surplus/Deficit', yLabelX: 486,
    legend: { box: [560, 15, 295, 42], cols: [563, 647, 746], rows: [28, 48], fs: 15.5 },
    series: [
      { name: lbl.S('A', 'TD3'), vals: bSaTD3, color: col.blue, mk: '*' },
      { name: lbl.S('B', 'TD3'), vals: bSbTD3, color: col.orange, mk: '+' },
      { name: lbl.S('A', 'DDPG'), vals: bSaDDPG, color: col.yellow, mk: 'v' },
      { name: lbl.S('B', 'DDPG'), vals: bSbDDPG, color: col.purple, mk: '^' },
      { name: lbl.S('A', 'Baseline'), vals: bSaBase, color: col.green, mk: 's' },
      { name: lbl.S('B', 'Baseline'), vals: bSbBase, color: col.cyan, mk: 'd' }
    ]
  },
  { // (c)
    left: 987, top: 13, w: 357, h: 163, xDom: [0, 1], yDom: [0, 1.25],
    xTicks: zetaTicks, yTicks: fairTicksC, xs: zeta,
    xLabel: xlZeta, xLabelY: 220, yLabel: 'Fairness Index', yLabelX: 950,
    legend: { box: [1084, 17, 165, 21], cols: [1086, 1137, 1198], rows: [27], fs: 16 },
    series: [
      { name: lbl.F('TD3'), vals: cTD3, color: col.blue, mk: 'd' },
      { name: lbl.F('DDPG'), vals: cDDPG, color: col.orange, mk: 'v' },
      { name: lbl.F('base'), vals: cBase, color: col.yellow, mk: '^' }
    ]
  },
  { // (d)
    left: 58, top: 307, w: 357, h: 164, xDom: [0, 100], yDom: [0, 40],
    xTicks: timeTicks, yTicks: allocTicks, xs: timeSteps,
    xLabel: xlTime, xLabelY: 516, yLabel: 'Allocation/Demand', yLabelX: 25,
    legend: { box: [64, 312, 344, 41], cols: [67, 108, 199, 298], rows: [323, 342], fs: 15 },
    series: [
      { name: lbl.DA, vals: demandA, color: col.blue, mk: '.' },
      { name: lbl.DB, vals: demandB, color: col.orange, mk: '^' },
      { name: lbl.N('A', 'TD3'), vals: dNaTD3, color: col.yellow, mk: '+' },
      { name: lbl.N('B', 'TD3'), vals: dNbTD3, color: col.purple, mk: 'd' },
      { name: lbl.N('A', 'DDPG'), vals: dNaDDPG, color: col.green, mk: 'v' },
      { name: lbl.N('B', 'DDPG'), vals: dNbDDPG, color: col.cyan, mk: 'x' },
      { name: lbl.N('A', 'Baseline'), vals: dNaBase, color: col.red, mk: 'v' },
      { name: lbl.N('B', 'Baseline'), vals: dNbBase, color: col.blue, mk: 'x' }
    ]
  },
  { // (e)
    left: 530.5, top: 307, w: 356, h: 163, xDom: [0, 1], yDom: [-1, 0.75],
    xTicks: zetaTicks, yTicks: surplusTicks, xs: zeta,
    xLabel: xlZeta, xLabelY: 515, yLabel: 'Surplus/Deficit', yLabelX: 486,
    legend: { box: [561, 311, 295, 42], cols: [564, 648, 747], rows: [322, 341], fs: 15 },
    series: [
      { name: lbl.S('A', 'TD3'), vals: eSaTD3, color: col.blue, mk: '*' },
      { name: lbl.S('B', 'TD3'), vals: eSbTD3, color: col.orange, mk: '+' },
      { name: lbl.S('A', 'DDPG'), vals: eSaDDPG, color: col.yellow, mk: 'v' },
      { name: lbl.S('B', 'DDPG'), vals: eSbDDPG, color: col.purple, mk: '^' },
      { name: lbl.S('A', 'Baseline'), vals: eSaBase, color: col.green, mk: 's' },
      { name: lbl.S('B', 'Baseline'), vals: eSbBase, color: col.cyan, mk: 'd' }
    ]
  },
  { // (f)
    left: 987, top: 307, w: 357, h: 162.5, xDom: [0, 1], yDom: [0, 1.5],
    xTicks: zetaTicks, yTicks: fairTicksF, xs: zeta,
    xLabel: xlZeta, xLabelY: 515, yLabel: 'Fairness Index', yLabelX: 950,
    legend: { box: [1083, 311, 165, 22], cols: [1085, 1136, 1197], rows: [322], fs: 16 },
    series: [
      { name: lbl.F('TD3'), vals: fTD3, color: col.blue, mk: 'd' },
      { name: lbl.F('DDPG'), vals: fDDPG, color: col.orange, mk: 'v' },
      { name: lbl.F('base'), vals: fBase, color: col.yellow, mk: '^' }
    ]
  }
];

panels.forEach(drawPanel);

// ---------- captions ----------
const Nr = [['N', 'i'], ['r', 'ib']];
const captions = [
  { x: 0, y: 262, len: 440, parts: [['(a) Resource demand and allocation for '], ...Nr, [' =']] },
  { x: 0, y: 286, parts: [['20 and '], ['ζ', 'i'], [' = 0.5.']] },
  { x: 462, y: 262, len: 438, parts: [['(b) Surplus/Deficit vs. weighting factor '], ['ζ', 'i'], [' for']] },
  { x: 462, y: 286, parts: [...Nr, [' = 20.']] },
  { x: 922, y: 262, len: 440, parts: [['(c) Jain’s Fairness index vs. weighting factor']] },
  { x: 922, y: 286, parts: [['ζ', 'i'], [' for '], ...Nr, [' = 20.']] },
  { x: 0, y: 558, len: 440, parts: [['(d) Resource Demand and allocation for']] },
  { x: 0, y: 583, parts: [...Nr, [' = 100 and '], ['ζ', 'i'], [' = 0.5.']] },
  { x: 462, y: 558, len: 438, parts: [['(e) Surplus/Deficit vs. weighting factor '], ['ζ', 'i'], [' for']] },
  { x: 462, y: 583, parts: [...Nr, [' = 100.']] },
  { x: 922, y: 558, len: 440, parts: [['(f) Jain’s Fairness index vs. weighting factor']] },
  { x: 922, y: 583, parts: [['ζ', 'i'], [' for '], ...Nr, [' = 100.']] }
];
captions.forEach(c => {
  const t = svg.append('text').attr('x', c.x).attr('y', c.y)
    .attr('font-size', 22).attr('fill', '#000')
    .style('white-space', 'pre');
  rich(t, c.parts, 22);
  if (c.len) {
    // justify by stretching the spaces between words, as LaTeX does
    const natural = t.node().getComputedTextLength();
    const spaces = c.parts.map(d => d[0]).join('').split(' ').length - 1;
    if (natural < c.len && spaces > 0) t.attr('word-spacing', (c.len - natural) / spaces);
  }
});
</script>
</body>
</html>
